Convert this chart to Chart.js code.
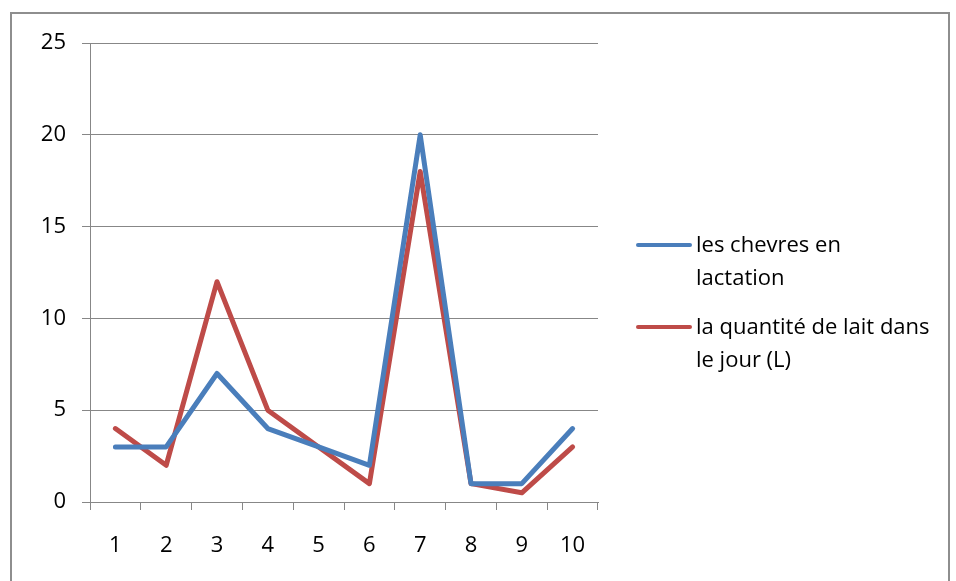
<!DOCTYPE html>
<html>
<head>
<meta charset="utf-8">
<script src="https://cdn.jsdelivr.net/npm/chart.js@4.4.1/dist/chart.umd.min.js"></script>
<style>
  html, body { margin: 0; padding: 0; background: #fff; }
  #wrap { position: relative; width: 956px; height: 581px; overflow: hidden; }
  #frame { position: absolute; left: 10px; top: 12px; width: 936px; height: 620px; border: 2px solid #8e8e8e; }
  canvas { position: absolute; left: 0; top: 0; }
  #legend { position: absolute; left: 636px; top: 227px; font-family: 'Open Sans', sans-serif; font-size: 22px; color: #000; }
  .item { display: flex; align-items: flex-start; margin-bottom: 16px; }
  .swatch { width: 56px; height: 4px; border-radius: 2px; margin-top: 16px; margin-right: 4px; }
  .txt { line-height: 33px; white-space: pre; }
</style>
</head>
<body>
<div id="wrap">
  <div id="frame"></div>
  <canvas id="c" width="956" height="581"></canvas>
  <div id="legend"></div>
</div>
<script>
const categories = ['1', '2', '3', '4', '5', '6', '7', '8', '9', '10'];
const chevres = [3, 3, 7, 4, 3, 2, 20, 1, 1, 4];
const lait = [4, 2, 12, 5, 3, 1, 18, 1, 0.5, 3];
const seriesNames = ['les chevres en lactation', 'la quantité de lait dans le jour (L)'];
const legendLines = [['les chevres en', 'lactation'], ['la quantité de lait dans', 'le jour (L)']];
const yTicks = [0, 5, 10, 15, 20, 25];

const blue = '#4a7ebb';
const red = '#be4b48';
const gridColor = '#878787';
const font = { family: 'Open Sans', size: 22 };

const datasets = [
  { label: seriesNames[0], data: chevres, borderColor: blue },
  { label: seriesNames[1], data: lait, borderColor: red },
].map(ds => ({
  ...ds,
  borderWidth: 5,
  tension: 0,
  pointRadius: 0,
  pointHoverRadius: 0,
  borderCapStyle: 'round',
  borderJoinStyle: 'round',
  fill: false,
}));

new Chart(document.getElementById('c'), {
  type: 'line',
  data: { labels: categories, datasets },
  options: {
    responsive: false,
    animation: false,
    devicePixelRatio: 1,
    layout: { padding: { top: 43, right: 358, left: 0, bottom: 0 } },
    plugins: { legend: { display: false }, tooltip: { enabled: false } },
    scales: {
      x: {
        offset: true,
        grid: { offset: true, drawOnChartArea: false, drawTicks: true, tickLength: 8, color: gridColor, lineWidth: 1 },
        border: { color: gridColor, width: 1 },
        ticks: { color: '#000', font, padding: 23, autoSkip: false, maxRotation: 0 },
        afterFit: s => { s.height = 79; },
      },
      y: {
        min: 0,
        max: 25,
        afterBuildTicks: s => { s.ticks = yTicks.map(v => ({ value: v })); },
        grid: { color: gridColor, lineWidth: 1, tickLength: 8 },
        border: { color: gridColor, width: 1 },
        ticks: { color: '#000', font, padding: 16 },
        afterFit: s => { s.width = 90; },
      },
    },
  },
});

const legend = document.getElementById('legend');
datasets.forEach((ds, i) => {
  const item = document.createElement('div');
  item.className = 'item';
  const sw = document.createElement('div');
  sw.className = 'swatch';
  sw.style.background = ds.borderColor;
  const t = document.createElement('div');
  t.className = 'txt';
  t.textContent = legendLines[i].join('\n');
  item.appendChild(sw);
  item.appendChild(t);
  legend.appendChild(item);
});
</script>
</body>
</html>
